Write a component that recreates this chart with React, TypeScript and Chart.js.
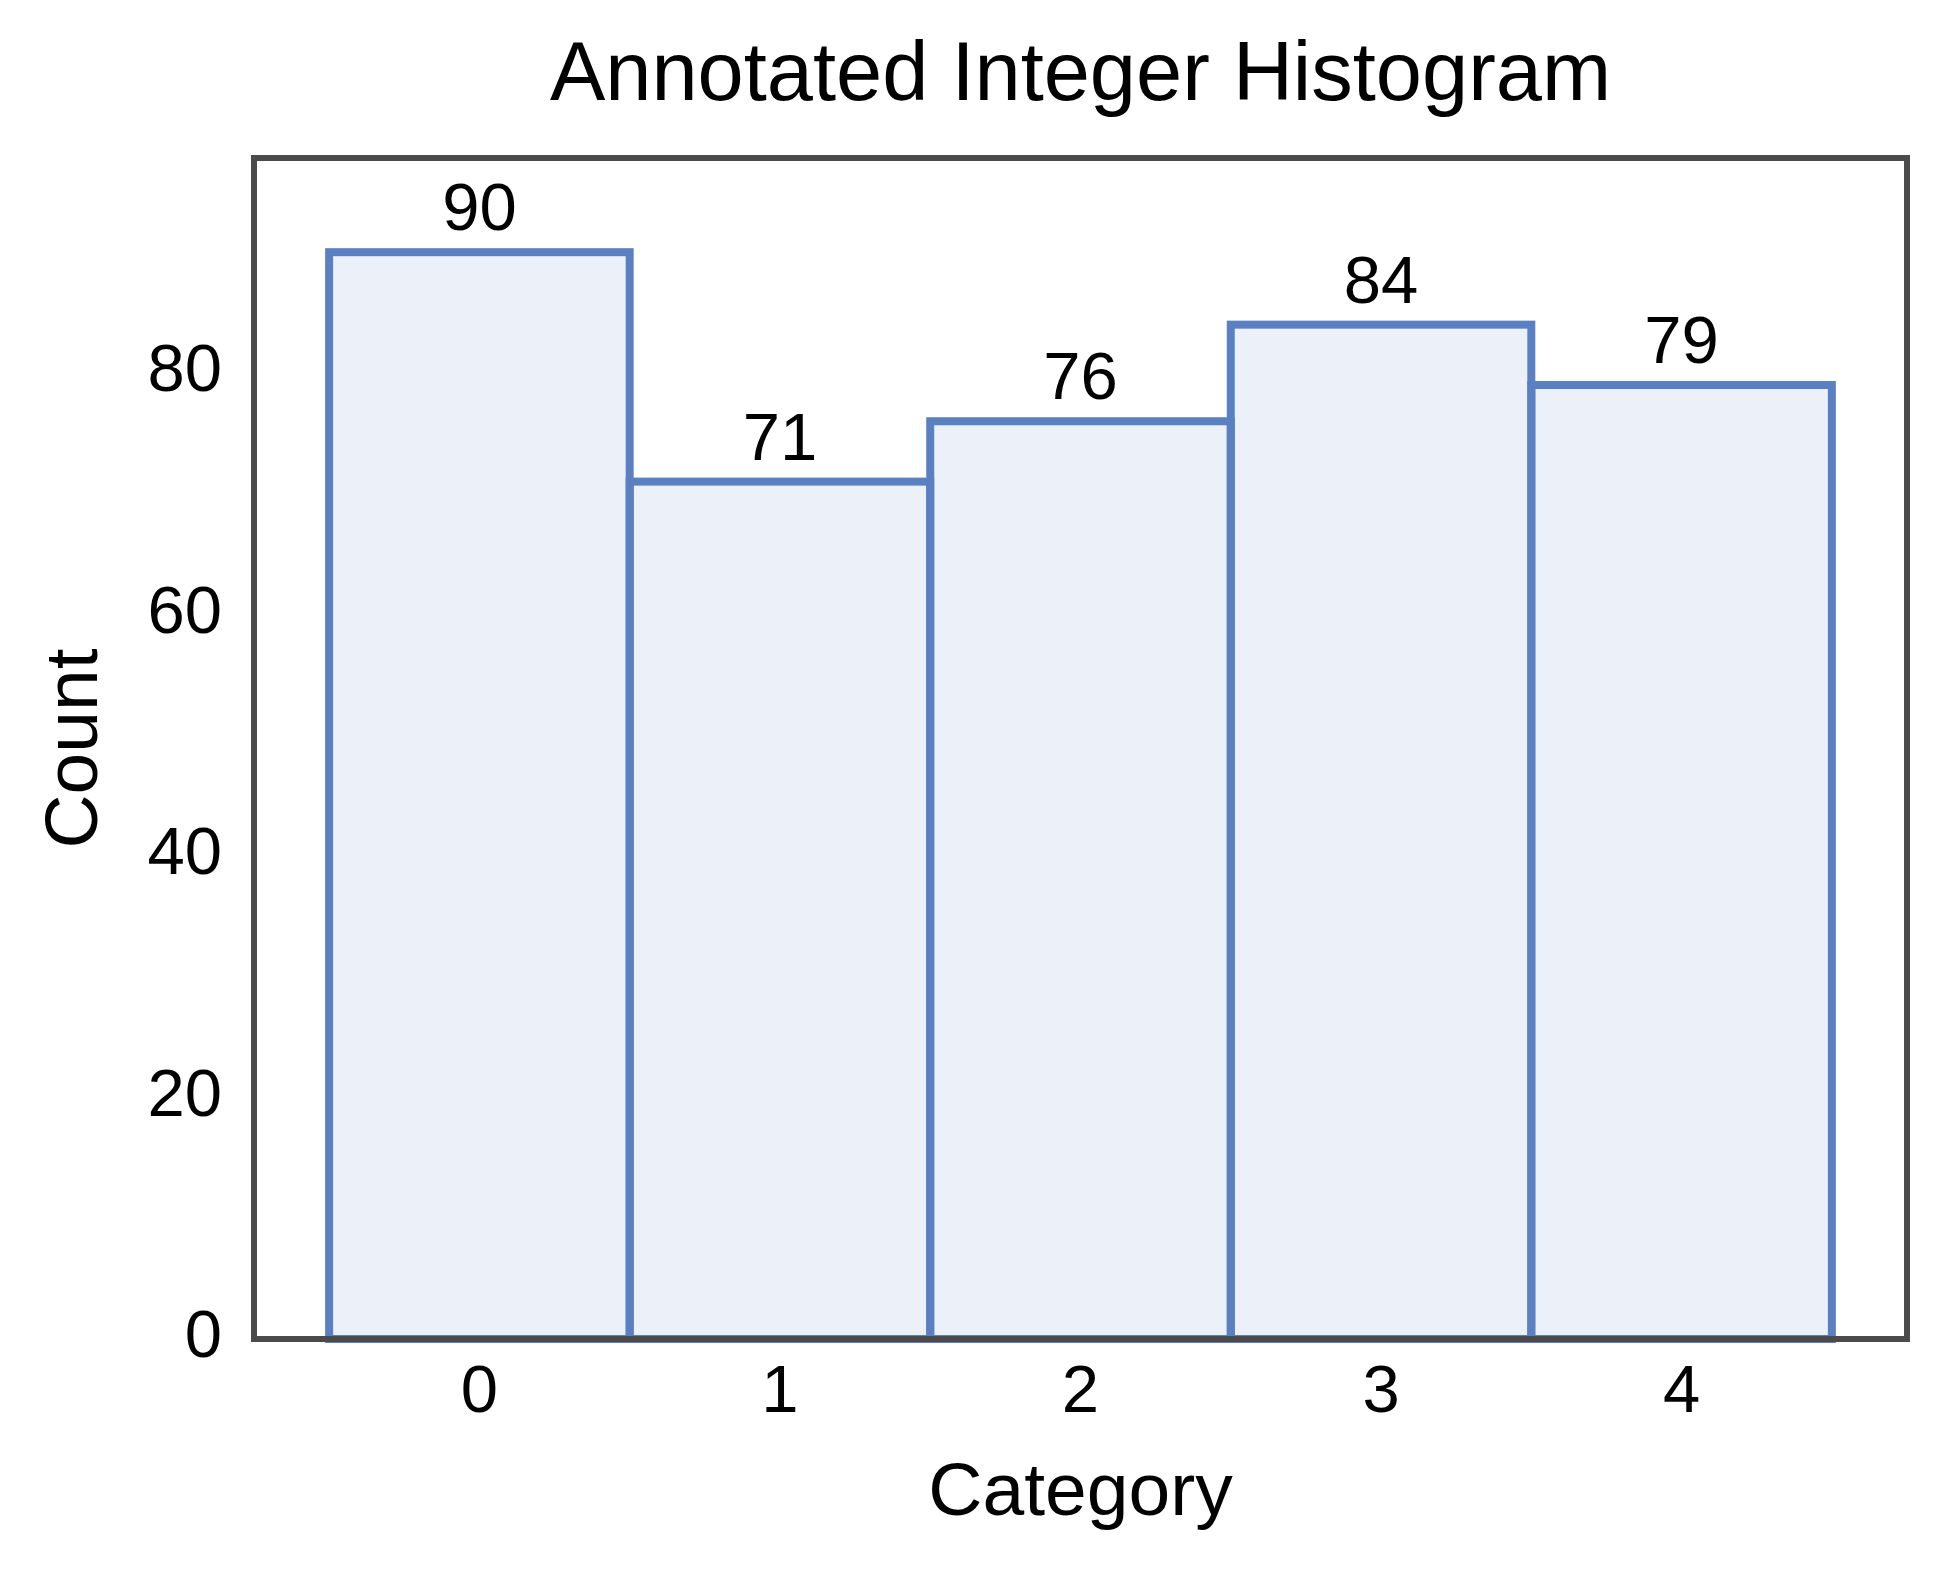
import { useEffect, useRef } from "react"
import { Chart, type ChartConfiguration, type Plugin, registerables } from "chart.js"

Chart.register(...registerables)

const categories = [0, 1, 2, 3, 4]
const counts = [90, 71, 76, 84, 79]
const chartTitle = "Annotated Integer Histogram"

const EDGE = "#5b80c2"
const FILL = "#ecf1f9"
const FRAME = "#4b4b4b"
const FONT = "'Liberation Sans', Arial, sans-serif"

// outlines each bar with a stroke centred on its edge, writes the count above it,
// draws the axes frame and puts the title centred over the plot area (like matplotlib)
const histDecor: Plugin<"bar"> = {
  id: "histDecor",
  afterDatasetsDraw(chart) {
    const { ctx, chartArea } = chart
    const meta = chart.getDatasetMeta(0)
    ctx.save()
    ctx.lineWidth = 8
    ctx.strokeStyle = EDGE
    ctx.lineJoin = "miter"
    meta.data.forEach((el: any) => {
      const { x, y, width, base } = el.getProps(["x", "y", "width", "base"], true)
      ctx.strokeRect(x - width / 2, y, width, base - y)
    })
    ctx.fillStyle = "#000"
    ctx.font = `67px ${FONT}`
    ctx.textAlign = "center"
    ctx.textBaseline = "alphabetic"
    meta.data.forEach((el: any, i) => {
      const { x, y } = el.getProps(["x", "y"], true)
      ctx.fillText(String(counts[i]), x, y - 22)
    })
    ctx.lineWidth = 6
    ctx.strokeStyle = FRAME
    ctx.strokeRect(chartArea.left, chartArea.top, chartArea.right - chartArea.left, chartArea.bottom - chartArea.top)

    ctx.font = `83px ${FONT}`
    ctx.textBaseline = "middle"
    ctx.fillText(chartTitle, (chartArea.left + chartArea.right) / 2, 77)
    ctx.restore()
  },
}

function Histogram() {
  const canvasRef = useRef<HTMLCanvasElement>(null)

  useEffect(() => {
    if (!canvasRef.current) return
    const config: ChartConfiguration<"bar"> = {
      type: "bar",
      data: {
        datasets: [
          {
            data: categories.map((c, i) => ({ x: c, y: counts[i] })),
            backgroundColor: FILL,
            borderWidth: 0,
            barPercentage: 1,
            categoryPercentage: 1,
          },
        ],
      },
      options: {
        animation: false,
        responsive: true,
        maintainAspectRatio: false,
        layout: { padding: { top: 158, left: 0, right: 47, bottom: 0 } },
        plugins: {
          legend: { display: false },
          tooltip: { enabled: false },
        },
        scales: {
          x: {
            type: "linear",
            min: -0.75,
            max: 4.75,
            offset: false,
            grid: { display: false, drawTicks: false },
            border: { display: false },
            ticks: {
              stepSize: 1,
              includeBounds: false,
              padding: 14,
              color: "#000",
              font: { family: FONT, size: 67 },
            },
            title: {
              display: true,
              text: "Category",
              color: "#000",
              font: { family: FONT, size: 75 },
              padding: { top: 0, bottom: 44 },
            },
            afterFit: (scale) => {
              scale.height = 244
            },
          },
          y: {
            min: 0,
            max: 97.8,
            grid: { display: false, drawTicks: false },
            border: { display: false },
            ticks: {
              stepSize: 20,
              includeBounds: false,
              padding: 32,
              color: "#000",
              font: { family: FONT, size: 67 },
            },
            title: {
              display: true,
              text: "Count",
              color: "#000",
              font: { family: FONT, size: 75 },
              padding: { top: 31, bottom: 0 },
            },
            afterFit: (scale) => {
              scale.width = 254
            },
          },
        },
      },
      plugins: [histDecor],
    }
    const chart = new Chart(canvasRef.current, config)
    return () => chart.destroy()
  }, [])

  return (
    <div style={{ position: "absolute", left: 0, top: 0, width: 1954, height: 1583, background: "#fff" }}>
      <canvas ref={canvasRef}></canvas>
    </div>
  )
}

export default function App() {
  return <Histogram />
}
